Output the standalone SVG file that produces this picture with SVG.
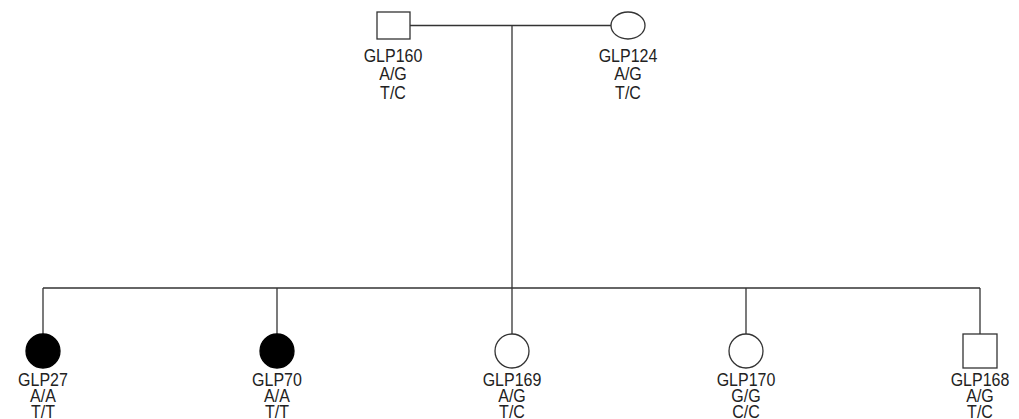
<svg xmlns="http://www.w3.org/2000/svg" width="1019" height="419" viewBox="0 0 1019 419">
<style>
.ln{stroke:#333;stroke-width:1.3;fill:none}
.sh{stroke:#333;stroke-width:1.3;fill:#fff}
.af{stroke:#000;stroke-width:1.3;fill:#000}
text{font-family:"Liberation Sans",Arial,sans-serif;font-size:16px;fill:#222;text-anchor:middle}
</style>
<rect width="1019" height="419" fill="#fff"/>
<g id="connectors">
<line class="ln" x1="410" y1="25.5" x2="611" y2="25.5"/>
<line class="ln" x1="512" y1="25.5" x2="512" y2="288"/>
<line class="ln" x1="43" y1="288" x2="980" y2="288"/>
<line class="ln" x1="43" y1="288" x2="43" y2="334"/>
<line class="ln" x1="277" y1="288" x2="277" y2="334"/>
<line class="ln" x1="512" y1="288" x2="512" y2="334"/>
<line class="ln" x1="746" y1="288" x2="746" y2="334"/>
<line class="ln" x1="980" y1="288" x2="980" y2="334"/>
</g>
<g id="GLP160">
<rect class="sh" x="377" y="12" width="33" height="27"/>
<g transform="translate(393,62) scale(1,1.15)"><text y="0">GLP160</text><text y="16">A/G</text><text y="32">T/C</text></g>
</g>
<g id="GLP124">
<ellipse class="sh" cx="628" cy="25.5" rx="17" ry="13.5"/>
<g transform="translate(628,62) scale(1,1.15)"><text y="0">GLP124</text><text y="16">A/G</text><text y="32">T/C</text></g>
</g>
<g id="GLP27">
<ellipse class="af" cx="43" cy="351" rx="17" ry="17"/>
<g transform="translate(43,386) scale(1,1.12)"><text y="0">GLP27</text><text y="14.3">A/A</text><text y="28.6">T/T</text></g>
</g>
<g id="GLP70">
<ellipse class="af" cx="277" cy="351" rx="17" ry="17"/>
<g transform="translate(277,386) scale(1,1.12)"><text y="0">GLP70</text><text y="14.3">A/A</text><text y="28.6">T/T</text></g>
</g>
<g id="GLP169">
<ellipse class="sh" cx="512" cy="351" rx="17" ry="17"/>
<g transform="translate(512,386) scale(1,1.12)"><text y="0">GLP169</text><text y="14.3">A/G</text><text y="28.6">T/C</text></g>
</g>
<g id="GLP170">
<ellipse class="sh" cx="746" cy="351" rx="17" ry="17"/>
<g transform="translate(746,386) scale(1,1.12)"><text y="0">GLP170</text><text y="14.3">G/G</text><text y="28.6">C/C</text></g>
</g>
<g id="GLP168">
<rect class="sh" x="963" y="334" width="34" height="34"/>
<g transform="translate(980,386) scale(1,1.12)"><text y="0">GLP168</text><text y="14.3">A/G</text><text y="28.6">T/C</text></g>
</g>
</svg>
